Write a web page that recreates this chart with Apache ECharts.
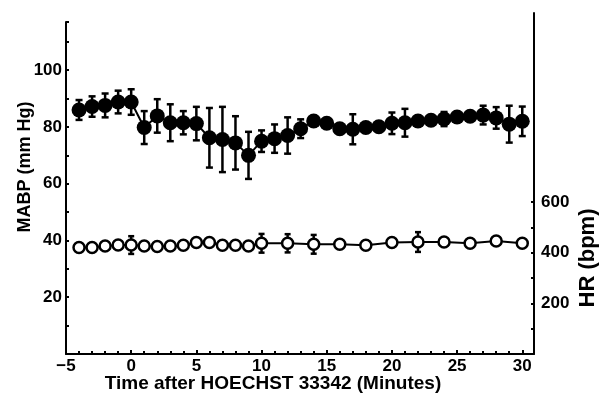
<!DOCTYPE html>
<html lang="en" style="height: 100%">
<head>
  <meta charset="utf-8">
  <title>MABP and HR after HOECHST 33342</title>
</head>
<body style="height: 100%; margin: 0; background: #fff">
  <div id="container" style="width: 601px; height: 397px"></div>
  <script type="text/javascript" src="https://cdn.jsdelivr.net/npm/echarts@6.0.0/dist/echarts.min.js"></script>
  <script type="text/javascript">
    // values
    const mabpTime = [-4, -3, -2, -1, 0, 1, 2, 3, 4, 5, 6, 7, 8, 9, 10, 11, 12, 13, 14, 15, 16, 17,
      18, 19, 20, 21, 22, 23, 24, 25, 26, 27, 28, 29, 30];
    const mabpMean = [86.0, 87.2, 87.6, 88.8, 88.8, 79.8, 83.9, 81.5, 81.5, 81.2, 76.2, 75.6, 74.4,
      70.0, 75.0, 75.9, 77.0, 79.4, 82.1, 81.3, 79.4, 79.2, 79.8, 80.1, 81.3, 81.5, 82.1, 82.4,
      82.8, 83.5, 83.8, 84.2, 83.2, 81.0, 82.0];
    const mabpErr = [3.5, 3.6, 4.2, 4.0, 4.5, 5.8, 5.9, 6.5, 4.1, 5.9, 10.5, 11.5, 9.4, 8.3, 3.8,
      5.0, 6.4, 3.3, 1.5, 1.5, 1.5, 5.3, 1.5, 1.5, 3.8, 4.9, 1.5, 1.5, 2.5, 1.5, 1.5, 3.3, 3.8,
      6.5, 5.2];

    const hrTime = [-4, -3, -2, -1, 0, 1, 2, 3, 4, 5, 6, 7, 8, 9, 10, 12, 14, 16, 18, 20, 22, 24,
      26, 28, 30];
    const hrMean = [420, 420, 426, 430, 430, 426, 424, 426, 429, 440, 440, 429, 429, 426, 437,
      437, 433, 433, 429, 440, 442, 442, 437, 446, 437];
    const hrErr = [8, 8, 8, 8, 35, 8, 8, 8, 8, 8, 8, 8, 8, 8, 37, 36, 37, 8, 8, 8, 39, 8, 8, 8, 8];

    const mabpLabels = [20, 40, 60, 80, 100];
    const mabpTicks = [10, 20, 30, 40, 50, 60, 70, 80, 90, 100, 110, 117];
    const hrLabels = [200, 400, 600];
    const hrTicks = [100, 200, 300, 400, 500, 600];

    const font = '"Liberation Sans", Arial, sans-serif';

    var dom = document.getElementById('container');
    var myChart = echarts.init(dom, null, { renderer: 'canvas' });

    function errBars(capW, lw) {
      return function (params, api) {
        var x = api.value(0);
        var top = api.coord([x, api.value(2)]);
        var bot = api.coord([x, api.value(1)]);
        var st = { stroke: '#000', lineWidth: lw };
        return {
          type: 'group',
          children: [
            { type: 'line', shape: { x1: top[0], y1: top[1], x2: bot[0], y2: bot[1] }, style: st },
            { type: 'line', shape: { x1: top[0] - capW, y1: top[1], x2: top[0] + capW, y2: top[1] }, style: st },
            { type: 'line', shape: { x1: bot[0] - capW, y1: bot[1], x2: bot[0] + capW, y2: bot[1] }, style: st }
          ]
        };
      };
    }

    const mabpData = mabpTime.map((t, i) => [t, mabpMean[i]]);
    const mabpBars = mabpTime.map((t, i) => [t, mabpMean[i] - mabpErr[i], mabpMean[i] + mabpErr[i]]);
    const hrData = hrTime.map((t, i) => [t, hrMean[i]]);
    const hrBars = hrTime.map((t, i) => [t, hrMean[i] - hrErr[i], hrMean[i] + hrErr[i]]);

    const labelStyle = { color: '#000', fontSize: 17, fontWeight: 'bold', fontFamily: font };

    var option = {
      animation: false,
      backgroundColor: '#fff',
      grid: [
        { left: 66, right: 67, top: 22, bottom: 43 },
        { left: 66, right: 67, top: 13, bottom: 43 }
      ],
      xAxis: [
        {
          type: 'value',
          gridIndex: 0,
          min: -5,
          max: 30.9,
          interval: 5,
          splitLine: { show: false },
          axisLine: { onZero: false, lineStyle: { color: '#000', width: 2 } },
          axisTick: { inside: true, length: 4, lineStyle: { color: '#000', width: 2 } },
          minorTick: { show: true, splitNumber: 5, length: 3, lineStyle: { color: '#000', width: 2 } },
          axisLabel: Object.assign({
            showMaxLabel: false,
            margin: 4,
            formatter: v => String(v).replace('-', '\u2212')
          }, labelStyle)
        },
        {
          type: 'value',
          gridIndex: 1,
          min: -5,
          max: 30.9,
          show: false
        }
      ],
      yAxis: [
        {
          type: 'value',
          gridIndex: 0,
          min: 0,
          max: 117,
          splitLine: { show: false },
          axisLine: { show: true, onZero: false, lineStyle: { color: '#000', width: 2 } },
          axisTick: {
            inside: true, length: 3, customValues: mabpTicks,
            lineStyle: { color: '#000', width: 2 }
          },
          axisLabel: Object.assign({ customValues: mabpLabels, margin: 4 }, labelStyle)
        },
        {
          type: 'value',
          gridIndex: 1,
          position: 'right',
          min: 0,
          max: 1346,
          splitLine: { show: false },
          axisLine: { show: true, onZero: false, lineStyle: { color: '#000', width: 2 } },
          axisTick: {
            inside: true, length: 3, customValues: hrTicks,
            lineStyle: { color: '#000', width: 2 }
          },
          axisLabel: Object.assign({ customValues: hrLabels, margin: 7 }, labelStyle)
        }
      ],
      graphic: [
        {
          type: 'text', x: 25, y: 167, rotation: Math.PI / 2,
          style: { text: 'MABP (mm Hg)', fill: '#000', fontSize: 18, fontWeight: 'bold', fontFamily: font, align: 'center', verticalAlign: 'middle' }
        },
        {
          type: 'text', x: 588, y: 258, rotation: Math.PI / 2,
          style: { text: 'HR (bpm)', fill: '#000', fontSize: 22, fontWeight: 'bold', fontFamily: font, align: 'center', verticalAlign: 'middle' }
        },
        {
          type: 'text', x: 273, y: 384,
          style: { text: 'Time after HOECHST 33342 (Minutes)', fill: '#000', fontSize: 19, fontWeight: 'bold', fontFamily: font, align: 'center', verticalAlign: 'middle' }
        }
      ],
      series: [
        {
          type: 'custom',
          xAxisIndex: 0,
          yAxisIndex: 0,
          renderItem: errBars(3.5, 2.5),
          encode: { x: 0, y: [1, 2] },
          data: mabpBars,
          z: 1
        },
        {
          name: 'MABP',
          type: 'line',
          xAxisIndex: 0,
          yAxisIndex: 0,
          symbol: 'circle',
          symbolSize: 15,
          itemStyle: { color: '#000' },
          lineStyle: { color: '#000', width: 2 },
          data: mabpData,
          z: 3
        },
        {
          type: 'custom',
          xAxisIndex: 1,
          yAxisIndex: 1,
          renderItem: errBars(3, 2.5),
          encode: { x: 0, y: [1, 2] },
          data: hrBars,
          z: 1
        },
        {
          name: 'HR',
          type: 'line',
          xAxisIndex: 1,
          yAxisIndex: 1,
          symbol: 'circle',
          symbolSize: 11,
          itemStyle: { color: '#fff', borderColor: '#000', borderWidth: 2.5 },
          lineStyle: { color: '#000', width: 2 },
          data: hrData,
          z: 3
        }
      ]
    };

    myChart.setOption(option);
    window.addEventListener('resize', myChart.resize);
  </script>
</body>
</html>
